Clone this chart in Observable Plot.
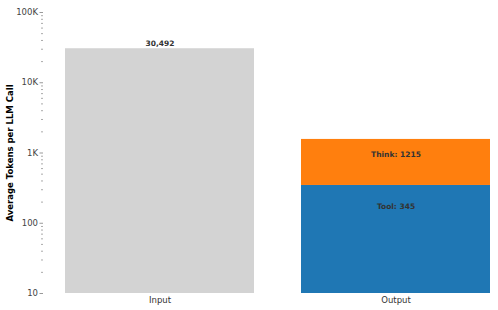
<!DOCTYPE html>
<html><head><meta charset="utf-8">
<script src="https://cdn.jsdelivr.net/npm/d3@7"></script>
<script src="https://cdn.jsdelivr.net/npm/@observablehq/plot@0.6"></script>
<style>body{margin:0;background:#fff;font-family:"DejaVu Sans",sans-serif}</style>
</head><body><div id="chart"></div>
<script>
const categories = ["Input", "Output"];
const inputTokens = 30492;
const outputParts = ["Tool", "Think"];
const outputValues = [345, 1215];
const yTicks = [10, 100, 1000, 10000, 100000];
const yTickLabels = ["10", "100", "1K", "10K", "100K"];

const base = 10;
const segs = [{cat: "Input", y1: base, y2: inputTokens, fill: "#d3d3d3", label: null}];
let acc = 0;
outputParts.forEach((p, i) => {
  const lo = acc, hi = acc + outputValues[i];
  segs.push({cat: "Output", y1: i === 0 ? base : lo, y2: hi, fill: i === 0 ? "#1f77b4" : "#ff7f0e",
    label: `${p}: ${outputValues[i]}`, ly: (lo + hi) / 2});
  acc = hi;
});
const minor = d3.scaleLog().domain([10, 100000]).ticks().filter(v => !yTicks.includes(v));

const chart = Plot.plot({
  width: 498, height: 310,
  marginTop: 12, marginBottom: 17, marginLeft: 43, marginRight: 0,
  style: {fontFamily: "DejaVu Sans", fontSize: "8px", color: "#333", background: "#fff"},
  x: {domain: categories, range: [43, 511], paddingInner: 0.2, paddingOuter: 0.0886, label: null},
  y: {type: "log", domain: [10, 100000], range: [293, 12], label: null},
  marks: [
    Plot.rectY(segs, {x: "cat", y1: "y1", y2: "y2", fill: "fill"}),
    Plot.text([{cat: "Input", v: inputTokens}], {x: "cat", y: "v", text: d => d3.format(",")(d.v), dy: -5, fontWeight: "bold", fontSize: 7.5, fill: "#333"}),
    Plot.text(segs.filter(d => d.label), {x: "cat", y: "ly", text: "label", fontWeight: "bold", fontSize: 7.5, fill: "#333"}),
    Plot.axisX({tickSize: 0, tickPadding: 3, fontSize: 8.5, fill: "#333", label: null}),
    Plot.axisY({ticks: yTicks, tickFormat: (d) => yTickLabels[yTicks.indexOf(d)], tickSize: 3.5, stroke: "#999", fontSize: 8.5, fill: "#444", tickPadding: 2, label: null}),
    Plot.axisY({ticks: minor, tickFormat: () => "", tickSize: 2, stroke: "#aaa", label: null}),
    Plot.ruleX([0], {x: () => 43, y1: 10, y2: 100000, stroke: "#999", strokeWidth: 1}),
    Plot.text(["Average Tokens per LLM Call"], {frameAnchor: "left", textAnchor: "middle", dx: -33, rotate: -90, fontWeight: "bold", fontSize: 8.5, fill: "#000"})
  ]
});
document.getElementById("chart").append(chart);
</script></body></html>
